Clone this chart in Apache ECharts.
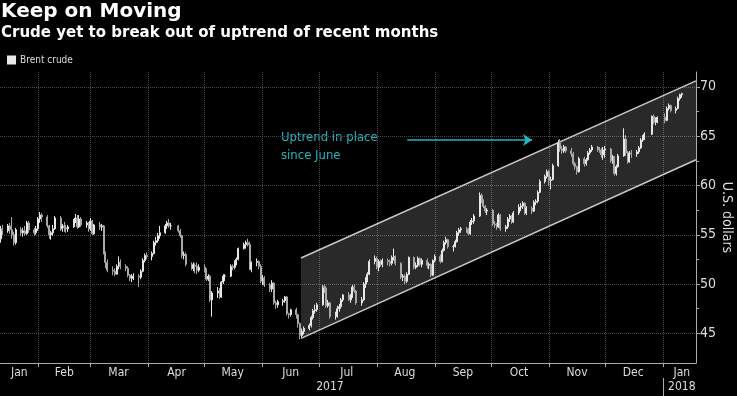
<!DOCTYPE html>
<html>
<head>
<meta charset="utf-8">
<script src="https://cdn.jsdelivr.net/npm/echarts@6/dist/echarts.min.js"></script>
<style>
  html, body { margin: 0; padding: 0; background: #000; }
  #main { width: 737px; height: 396px; }
</style>
</head>
<body>
<div id="main"></div>
<script>
var chartDom = document.getElementById('main');
var myChart = echarts.init(chartDom);
var option;

var months = ['Jan', 'Feb', 'Mar', 'Apr', 'May', 'Jun', 'Jul', 'Aug', 'Sep', 'Oct', 'Nov', 'Dec'];
var holidays = ['2017-04-14', '2017-12-25', '2018-01-01'];
var firstDay = '2017-01-12';

// daily Brent crude [open, close, low, high], one row per trading day
var ohlc = [
  // Jan 2017
  [54.6,55.6,54.2,55.9],[55.6,55.4,55.0,56.0],[55.4,55.9,55.2,56.1],[55.9,55.5,55.1,56.2],
  [55.5,55.0,54.6,56.8],[55.0,54.2,53.9,55.3],[54.2,55.5,54.0,55.7],[55.5,55.2,54.9,55.8],
  [55.2,55.4,54.8,55.7],[55.4,55.1,54.9,55.9],[55.1,56.2,55.0,56.4],[56.2,55.5,55.2,56.4],
  [55.5,55.2,54.9,55.7],[55.2,55.6,55.0,55.9],
  // Feb
  [55.6,56.6,55.4,56.8],[56.6,57.0,56.2,57.3],[57.0,56.8,56.3,57.2],[56.8,55.9,55.7,57.0],
  [55.9,55.0,54.6,56.0],[55.0,55.2,54.5,55.4],[55.2,55.6,54.9,56.0],[55.6,56.7,55.5,56.9],
  [56.7,55.6,55.4,56.9],[55.6,55.9,55.3,56.1],[55.9,55.7,55.3,56.3],[55.7,55.6,55.2,56.0],
  [55.6,55.8,55.3,56.0],[55.8,56.4,55.7,56.6],[56.4,56.7,56.2,57.1],[56.7,55.8,55.6,57.0],
  [55.8,56.6,55.7,57.0],[56.6,56.0,55.8,56.8],[56.0,56.2,55.7,56.4],[56.2,55.6,55.3,56.3],
  // Mar
  [55.6,56.4,55.4,56.7],[56.4,55.1,55.0,56.5],[55.1,56.0,55.0,56.1],[56.0,55.8,55.5,56.3],
  [55.8,55.9,55.4,56.1],[55.9,53.1,53.0,56.0],[53.1,52.2,51.6,53.3],[52.2,51.4,51.2,52.5],
  [51.4,51.3,50.9,51.8],[51.3,51.0,50.8,51.6],[51.0,51.8,51.0,52.0],[51.8,52.2,51.5,52.8],
  [52.2,51.8,51.5,52.5],[51.8,51.6,51.3,52.0],[51.6,50.9,50.7,51.8],[50.9,50.6,50.3,51.0],
  [50.6,50.6,50.2,51.0],[50.6,50.8,50.4,51.1],[50.8,50.7,49.7,51.0],[50.7,51.3,50.5,51.5],
  [51.3,52.4,51.2,52.6],[52.4,52.9,52.2,53.1],[52.9,52.8,52.5,53.2],
  // Apr
  [52.8,53.1,52.4,53.3],[53.1,54.2,53.0,54.4],[54.2,54.4,53.9,54.8],[54.4,54.9,54.2,55.2],
  [54.9,55.2,54.6,55.9],[55.2,55.9,55.1,56.1],[55.9,56.2,55.6,56.4],[56.2,55.9,55.7,56.6],
  [55.9,55.9,55.5,56.2],[55.9,55.4,55.2,56.0],[55.4,54.9,54.7,55.6],[54.9,52.9,52.6,55.0],
  [52.9,53.0,52.5,53.3],[53.0,52.0,51.8,53.2],[52.0,51.6,51.4,52.2],[51.6,51.9,51.3,52.2],
  [51.9,51.8,51.1,52.1],[51.8,51.4,51.0,52.2],[51.4,51.7,51.2,52.0],
  // May
  [51.7,51.5,51.2,52.0],[51.5,50.5,50.3,51.6],[50.5,50.8,50.3,51.0],[50.8,48.4,48.2,50.9],
  [48.4,49.1,46.7,49.3],[49.1,49.3,48.6,49.7],[49.3,48.7,48.5,49.6],[48.7,50.2,48.6,50.3],
  [50.2,50.8,50.0,51.0],[50.8,50.8,50.3,51.0],[50.8,51.8,50.7,52.0],[51.8,51.7,51.4,52.0],
  [51.7,52.2,51.5,52.4],[52.2,52.5,51.9,52.7],[52.5,53.6,52.4,53.7],[53.6,54.0,53.5,54.2],
  [54.0,54.2,53.6,54.4],[54.2,54.0,53.8,54.6],[54.0,51.5,51.4,54.3],[51.5,52.2,51.2,52.3],
  [52.2,52.3,51.8,52.6],[52.3,51.8,51.5,52.4],[51.8,50.3,50.1,52.0],
  // Jun
  [50.3,50.6,49.9,50.9],[50.6,49.9,49.7,50.8],[49.9,49.5,49.2,50.1],[49.5,50.1,49.2,50.4],
  [50.1,48.1,47.9,50.2],[48.1,47.9,47.5,48.3],[47.9,48.2,47.6,48.4],[48.2,48.3,47.8,48.5],
  [48.3,48.7,48.1,48.8],[48.7,47.0,46.8,48.8],[47.0,46.9,46.5,47.1],[46.9,47.4,46.7,47.5],
  [47.4,46.9,46.5,47.6],[46.9,46.0,45.6,47.0],[46.0,44.8,44.4,46.1],[44.8,45.2,44.6,45.5],
  [45.2,45.5,44.9,45.7],[45.5,45.8,45.3,46.0],[45.8,46.6,45.6,46.8],[46.6,47.3,46.4,47.5],
  [47.3,47.4,47.0,47.9],[47.4,47.9,47.2,48.1],
  // Jul
  [47.9,49.7,47.8,49.9],[49.7,49.6,49.1,50.0],[49.6,47.8,47.6,49.8],[47.8,48.1,47.6,48.4],
  [48.1,46.7,46.5,48.2],[46.7,46.9,46.4,47.2],[46.9,47.5,46.6,47.8],[47.5,47.7,47.2,48.0],
  [47.7,48.4,47.5,48.6],[48.4,48.9,48.2,49.0],[48.9,48.4,48.3,49.2],[48.4,48.8,48.1,49.0],
  [48.8,49.7,48.6,49.9],[49.7,49.3,49.1,50.0],[49.3,48.1,47.9,49.4],[48.1,48.4,47.8,48.7],
  [48.4,50.0,48.3,50.2],[50.0,50.4,49.6,50.7],[50.4,51.0,50.2,51.2],[51.0,52.3,50.9,52.5],
  [52.3,52.6,52.0,52.9],
  // Aug
  [52.6,51.7,51.5,52.8],[51.7,52.3,51.3,52.5],[52.3,52.0,51.8,52.5],[52.0,52.4,51.7,52.6],
  [52.4,52.3,51.9,52.6],[52.3,52.1,51.8,52.5],[52.1,52.7,51.9,52.9],[52.7,52.8,52.4,53.6],
  [52.8,52.1,51.9,52.9],[52.1,50.7,50.5,52.2],[50.7,50.8,50.3,51.0],[50.8,50.3,50.0,51.0],
  [50.3,51.0,50.1,51.2],[51.0,52.7,50.9,52.8],[52.7,51.7,51.5,52.8],[51.7,51.9,51.5,52.2],
  [51.9,52.6,51.7,52.8],[52.6,52.0,51.8,52.7],[52.0,52.4,51.7,52.6],[52.4,51.9,51.6,52.6],
  [51.9,52.0,51.5,52.2],[52.0,50.9,50.7,52.1],[50.9,52.4,50.8,52.5],
  // Sep
  [52.4,52.8,52.2,53.0],[52.8,52.3,52.1,53.0],[52.3,53.4,52.2,53.6],[53.4,54.2,53.3,54.4],
  [54.2,54.5,54.0,54.8],[54.5,53.8,53.6,54.6],[53.8,53.8,53.3,54.0],[53.8,54.3,53.7,54.5],
  [54.3,55.2,54.2,55.4],[55.2,55.5,54.9,55.7],[55.5,55.6,55.2,55.8],[55.6,55.5,55.2,55.8],
  [55.5,55.1,55.0,55.7],[55.1,56.3,55.0,56.5],[56.3,56.4,56.0,56.7],[56.4,56.9,56.1,57.1],
  [56.9,59.0,56.8,59.3],[59.0,58.4,58.2,59.2],[58.4,57.9,57.7,58.6],[57.9,57.4,57.2,58.0],
  [57.4,57.5,57.0,57.7],
  // Oct
  [57.5,56.1,55.9,57.6],[56.1,56.0,55.7,56.4],[56.0,55.8,55.5,56.2],[55.8,57.0,55.7,57.2],
  [57.0,55.6,55.4,57.1],[55.6,55.8,55.3,56.0],[55.8,56.6,55.6,56.8],[56.6,56.9,56.3,57.1],
  [56.9,56.3,56.1,57.0],[56.3,57.2,56.2,57.4],[57.2,57.8,57.0,58.1],[57.8,57.9,57.4,58.2],
  [57.9,58.2,57.6,58.4],[58.2,57.2,57.0,58.3],[57.2,57.7,57.0,57.9],[57.7,57.4,57.1,57.9],
  [57.4,58.3,57.3,58.5],[58.3,58.4,58.0,58.6],[58.4,59.3,58.2,59.5],[59.3,60.4,59.2,60.6],
  [60.4,60.9,60.2,61.1],[60.9,61.4,60.7,61.6],
  // Nov
  [61.4,60.5,60.0,61.6],[60.5,60.6,59.6,60.9],[60.6,62.0,60.5,62.2],[62.0,64.3,61.9,64.6],
  [64.3,63.7,63.4,64.7],[63.7,63.5,63.2,64.0],[63.5,63.9,63.3,64.1],[63.9,63.5,63.3,64.0],
  [63.5,63.2,62.9,63.8],[63.2,62.2,62.0,63.4],[62.2,61.9,61.6,62.4],[61.9,61.4,61.1,62.0],
  [61.4,62.7,61.3,62.9],[62.7,62.2,61.9,62.9],[62.2,62.6,62.0,62.8],[62.6,63.3,62.5,63.5],
  [63.3,63.6,63.1,63.8],[63.6,63.9,63.4,64.1],[63.9,63.8,63.4,64.0],[63.8,63.6,63.3,63.9],
  [63.6,63.1,62.8,63.8],[63.1,63.6,62.6,63.9],
  // Dec
  [63.6,63.7,62.8,64.0],[63.7,62.5,62.3,63.8],[62.5,62.9,62.2,63.1],[62.9,61.2,61.0,63.0],
  [61.2,61.9,61.0,62.1],[61.9,63.0,61.8,63.2],[63.0,64.7,62.9,65.8],[64.7,63.3,63.0,65.1],
  [63.3,62.4,62.2,63.5],[62.4,63.3,62.3,63.5],[63.3,63.2,62.8,63.6],[63.2,63.4,62.9,63.6],
  [63.4,63.8,63.2,64.0],[63.8,64.6,63.7,64.8],[64.6,64.9,64.4,65.1],[64.9,65.2,64.6,65.4],
  [65.2,67.0,65.1,67.1],[67.0,66.4,66.2,67.2],[66.4,66.7,66.1,66.9],[66.7,66.9,66.3,67.0],
  // Jan 2018
  [66.9,66.6,66.3,67.3],[66.6,67.8,66.5,68.0],[67.8,68.1,67.6,68.3],[68.1,67.6,67.4,68.2],
  [67.6,67.8,67.3,68.0],[67.8,68.8,67.7,69.0],[68.8,69.2,68.6,69.3],[69.2,69.3,68.9,69.4]
];

// uptrend channel: [start date, upper, lower] -> [end date, upper, lower]
var channelStart = ['2017-06-21T12:00:00Z', 52.65, 44.5];
var channelEnd = ['2018-01-18T14:00:00Z', 70.6, 62.6];

var xMin = '2017-01-11T16:00:00Z';
var xMax = '2018-01-18T14:00:00Z';
var monthTicks = ['2017-02-01', '2017-03-01', '2017-04-01', '2017-05-01', '2017-06-01', '2017-07-01',
  '2017-08-01', '2017-09-01', '2017-10-01', '2017-11-01', '2017-12-01', '2018-01-01'];
var monthLabelAt = ['2017-01-22', '2017-02-15', '2017-03-16', '2017-04-16', '2017-05-16', '2017-06-16',
  '2017-07-16', '2017-08-16', '2017-09-16', '2017-10-16', '2017-11-16', '2017-12-16', '2018-01-11'];
var yearLabelAt = ['2017-07-07', '2018-01-11'];
var yearSplit = ['2018-01-01'];
var yTicks = [45, 50, 55, 60, 65, 70];
var yMinorTicks = [47.5, 52.5, 57.5, 62.5, 67.5];
var arrowFrom = ['2017-08-17T07:00:00Z', 64.6];
var arrowTo = ['2017-10-23T00:00:00Z', 64.6];

function ts(s) {
  return +new Date(s.length === 10 ? s + 'T00:00:00Z' : s);
}

var dates = [];
var t = ts(firstDay);
while (dates.length < ohlc.length) {
  var d = new Date(t);
  var wd = d.getUTCDay();
  if (wd !== 0 && wd !== 6 && holidays.indexOf(d.toISOString().slice(0, 10)) < 0) {
    dates.push(t);
  }
  t += 86400000;
}
var candleData = ohlc.map(function (v, i) {
  return [dates[i], v[0], v[1], v[2], v[3]];
});

var labelFont = "'DejaVu Sans Condensed', 'Liberation Sans Narrow', 'DejaVu Sans', sans-serif";
var cyan = '#1fb6c1';

option = {
  backgroundColor: '#000',
  animation: false,
  title: {
    text: 'Keep on Moving',
    subtext: 'Crude yet to break out of uptrend of recent months',
    left: 0,
    top: 0,
    padding: [2, 1],
    itemGap: 4,
    textStyle: { color: '#fff', fontSize: 20, fontWeight: 'bold', fontFamily: 'DejaVu Sans' },
    subtextStyle: { color: '#fff', fontSize: 15, fontWeight: 'bold', fontFamily: 'DejaVu Sans' }
  },
  legend: {
    data: [{ name: 'Brent crude', icon: 'rect' }],
    left: 2,
    top: 50,
    itemWidth: 7,
    itemHeight: 7,
    itemGap: 4,
    textStyle: { color: '#ddd', fontSize: 10, fontFamily: labelFont }
  },
  grid: { left: 0, right: 41, top: 72, bottom: 33, containLabel: false, outerBoundsMode: 'none' },
  xAxis: [
    {
      type: 'value',
      min: ts(xMin),
      max: ts(xMax),
      axisLine: { lineStyle: { color: '#aaa', width: 1 } },
      axisTick: { customValues: monthTicks.map(ts), length: 4, lineStyle: { color: '#aaa' } },
      axisLabel: {
        customValues: monthLabelAt.map(ts),
        color: '#ddd',
        fontSize: 12,
        fontFamily: labelFont,
        margin: 4,
        formatter: function (v) { return months[new Date(v).getUTCMonth()]; }
      },
      splitLine: { show: true, lineStyle: { color: '#4a4a4a', type: 'dotted' } }
    },
    {
      type: 'value',
      min: ts(xMin),
      max: ts(xMax),
      position: 'bottom',
      offset: 15,
      axisLine: { show: false },
      axisTick: { customValues: yearSplit.map(ts), length: 19, lineStyle: { color: '#aaa' } },
      axisLabel: {
        customValues: yearLabelAt.map(ts),
        color: '#ddd',
        fontSize: 12,
        fontFamily: labelFont,
        margin: 3,
        formatter: function (v) { return String(new Date(v).getUTCFullYear()); }
      },
      splitLine: { show: false }
    }
  ],
  yAxis: [
    {
      type: 'value',
      position: 'right',
      min: 42,
      max: 71.5,
      name: 'U.S. dollars',
      nameLocation: 'middle',
      nameRotate: -90,
      nameGap: 24,
      nameMoveOverlap: false,
      nameTextStyle: { color: '#ddd', fontSize: 14, fontFamily: labelFont },
      axisLine: { show: true, lineStyle: { color: '#aaa' } },
      axisTick: { show: true, customValues: yTicks, length: 4, lineStyle: { color: '#aaa' } },
      axisLabel: { customValues: yTicks, color: '#ddd', fontSize: 14, fontFamily: labelFont, margin: 4 },
      splitLine: { show: true, lineStyle: { color: '#4a4a4a', type: 'dotted' } }
    },
    {
      type: 'value',
      position: 'right',
      min: 42,
      max: 71.5,
      axisLine: { show: false },
      axisTick: { show: true, customValues: yMinorTicks, length: 3, lineStyle: { color: '#aaa' } },
      axisLabel: { show: false },
      splitLine: { show: false }
    }
  ],
  series: [
    {
      type: 'custom',
      name: 'channel',
      silent: true,
      z: 1,
      encode: { x: [0, 3], y: [1, 2, 4, 5] },
      data: [[ts(channelStart[0]), channelStart[1], channelStart[2], ts(channelEnd[0]), channelEnd[1], channelEnd[2]]],
      renderItem: function (params, api) {
        var a = api.coord([api.value(0), api.value(1)]);
        var b = api.coord([api.value(0), api.value(2)]);
        var c = api.coord([api.value(3), api.value(5)]);
        var e = api.coord([api.value(3), api.value(4)]);
        return {
          type: 'group',
          children: [
            { type: 'polygon', shape: { points: [a, e, c, b] }, style: { fill: 'rgba(255,255,255,0.16)' } },
            { type: 'line', shape: { x1: a[0], y1: a[1], x2: e[0], y2: e[1] }, style: { stroke: '#c8c8c8', lineWidth: 1.5 } },
            { type: 'line', shape: { x1: b[0], y1: b[1], x2: c[0], y2: c[1] }, style: { stroke: '#c8c8c8', lineWidth: 1.5 } }
          ]
        };
      }
    },
    {
      type: 'candlestick',
      name: 'Brent crude',
      z: 3,
      barWidth: 1.5,
      encode: { x: 0, y: [1, 2, 3, 4] },
      itemStyle: {
        color: '#e8e8e8',
        color0: '#a8a8a8',
        borderColor: '#e8e8e8',
        borderColor0: '#a8a8a8',
        borderWidth: 1
      },
      data: candleData,
      markLine: {
        silent: true,
        symbol: ['none', 'arrow'],
        symbolSize: [9, 9],
        label: { show: false },
        lineStyle: { color: cyan, width: 1.5, type: 'solid' },
        data: [[{ coord: [ts(arrowFrom[0]), arrowFrom[1]] }, { coord: [ts(arrowTo[0]), arrowTo[1]] }]]
      }
    }
  ],
  graphic: [
    {
      type: 'text',
      left: 281,
      top: 129,
      style: {
        text: 'Uptrend in place\nsince June',
        fill: cyan,
        font: '13px ' + labelFont,
        lineHeight: 18
      }
    }
  ]
};

option && myChart.setOption(option);
</script>
</body>
</html>
